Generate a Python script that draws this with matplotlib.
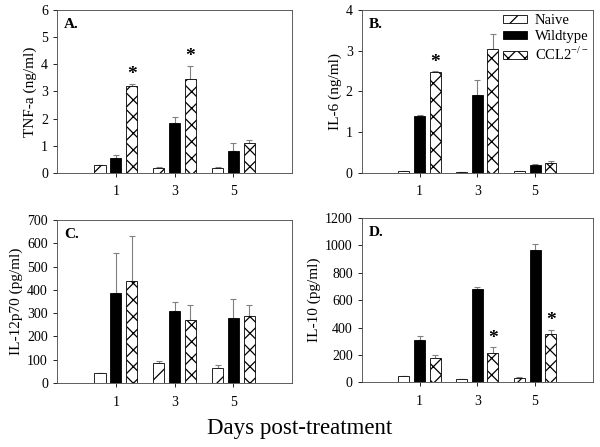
import numpy as np
import matplotlib
matplotlib.use("Agg")
import matplotlib.pyplot as plt

plt.rcParams['font.family'] = ['Liberation Serif', 'DejaVu Serif']
plt.rcParams['hatch.linewidth'] = 0.9

# Data
days = ['1', '3', '5']
groups = ['Naive', 'Wildtype', 'CCL2$^{\\mathregular{-/-}}$']

tnf_naive = [0.28, 0.20, 0.20]
tnf_naive_err = [0.02, 0.02, 0.02]
tnf_wt = [0.55, 1.85, 0.82]
tnf_wt_err = [0.12, 0.20, 0.27]
tnf_ko = [3.20, 3.45, 1.10]
tnf_ko_err = [0.07, 0.50, 0.12]

il6_naive = [0.05, 0.02, 0.05]
il6_naive_err = [0.01, 0.01, 0.01]
il6_wt = [1.40, 1.90, 0.20]
il6_wt_err = [0.01, 0.38, 0.01]
il6_ko = [2.47, 3.03, 0.25]
il6_ko_err = [0.02, 0.37, 0.05]

il12_naive = [45, 87, 65]
il12_naive_err = [0, 8, 13]
il12_wt = [385, 310, 278]
il12_wt_err = [175, 37, 83]
il12_ko = [437, 272, 288]
il12_ko_err = [193, 62, 47]

il10_naive = [45, 22, 30]
il10_naive_err = [3, 3, 5]
il10_wt = [305, 685, 968]
il10_wt_err = [30, 8, 42]
il10_ko = [180, 210, 350]
il10_ko_err = [20, 45, 30]

# last item: days where the CCL2 bar gets an asterisk
panels = [
    ('A.', 'TNF-a (ng/ml)', 6, 1, [tnf_naive, tnf_wt, tnf_ko], [tnf_naive_err, tnf_wt_err, tnf_ko_err], [0, 1]),
    ('B.', 'IL-6 (ng/ml)', 4, 1, [il6_naive, il6_wt, il6_ko], [il6_naive_err, il6_wt_err, il6_ko_err], [0]),
    ('C.', 'IL-12p70 (pg/ml)', 700, 100, [il12_naive, il12_wt, il12_ko], [il12_naive_err, il12_wt_err, il12_ko_err], []),
    ('D.', 'IL-10 (pg/ml)', 1200, 200, [il10_naive, il10_wt, il10_ko], [il10_naive_err, il10_wt_err, il10_ko_err], [1, 2]),
]

rects = [[0.095, 0.613, 0.392, 0.365], [0.603, 0.613, 0.385, 0.365],
         [0.095, 0.143, 0.392, 0.365], [0.603, 0.145, 0.385, 0.367]]

fig = plt.figure(figsize=(6, 4.47), dpi=100)

x = np.arange(1, 4)
w = 0.19
offs = [-0.27, 0, 0.27]
styles = [dict(color='white', hatch='/'), dict(color='black', hatch=None), dict(color='white', hatch='xx')]

for (lab, ylab, ymax, step, vals, errs, stars), r in zip(panels, rects):
    ax = fig.add_axes(r)
    for i in range(3):
        ax.bar(x + offs[i], vals[i], w, color=styles[i]['color'], hatch=styles[i]['hatch'],
               edgecolor='black', linewidth=0.6, label=groups[i], zorder=2)
        ax.errorbar(x + offs[i], vals[i], yerr=[np.zeros(3), errs[i]], fmt='none',
                    ecolor='#808080', elinewidth=0.8, capsize=2, capthick=0.8, zorder=1)
    for j in stars:
        top = vals[2][j] + errs[2][j]
        ax.text(x[j] + offs[2], top + ymax * 0.005, '*', ha='center', va='bottom',
                fontsize=14, fontweight='bold')
    ax.set_xlim(0, 4)
    ax.set_ylim(0, ymax)
    ax.set_yticks(np.arange(0, ymax + step / 2, step))
    ax.set_xticks(x)
    ax.set_xticklabels(days)
    ax.tick_params(labelsize=10, length=3, width=0.6)
    ax.tick_params(axis='x', pad=6)
    for s in ax.spines.values():
        s.set_linewidth(0.6)
        s.set_color('#444444')
    ax.set_ylabel(ylab, fontsize=11, labelpad=3)
    ax.text(0.03, 0.95, lab, transform=ax.transAxes, fontsize=11, fontweight='bold', va='top')
    if lab == 'B.':
        ax.legend(loc='upper right', frameon=False, fontsize=10.5, handlelength=1.7,
                  handleheight=0.4, labelspacing=0.2, borderaxespad=0.1, borderpad=0.2,
                  handletextpad=0.5)

fig.text(0.5, 0.03, 'Days post-treatment', ha='center', fontsize=16.5)

fig.savefig('out.png', dpi=100)
